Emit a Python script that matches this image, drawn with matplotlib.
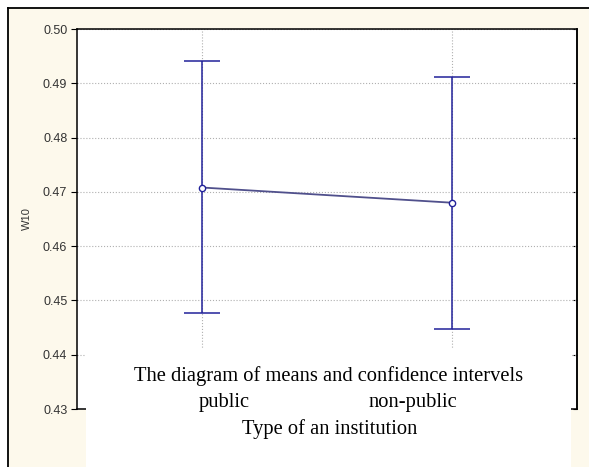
import matplotlib
matplotlib.use('Agg')
import matplotlib.pyplot as plt
from matplotlib.patches import Rectangle
from matplotlib.lines import Line2D

groups = ['public', 'non-public']
means = [0.4708, 0.4680]
upper = [0.4941, 0.4912]
lower = [0.4477, 0.4448]
yticks = [0.43, 0.44, 0.45, 0.46, 0.47, 0.48, 0.49, 0.50]

W, H = 589, 467
fig = plt.figure(figsize=(W / 100, H / 100), dpi=100)
fig.patch.set_facecolor('white')

# cream background with black frame on top and left
fig.patches.append(Rectangle((8 / W, 0), 1, 1 - 8 / H, transform=fig.transFigure,
                             facecolor='#fdf9ec', edgecolor='none', zorder=-2))
fig.lines.append(Line2D([8 / W, 1], [1 - 8 / H, 1 - 8 / H], transform=fig.transFigure,
                        color='black', lw=1.3, zorder=-1))
fig.lines.append(Line2D([8 / W, 8 / W], [0, 1 - 8 / H], transform=fig.transFigure,
                        color='black', lw=1.3, zorder=-1))

ax = fig.add_axes([77 / W, (H - 409) / H, 500 / W, 380 / H])
ax.set_zorder(1)
ax.set_facecolor('white')

x = list(range(len(groups)))
yerr = [[m - l for m, l in zip(means, lower)], [u - m for m, u in zip(means, upper)]]
ax.errorbar(x, means, yerr=yerr, fmt='none', ecolor='#22229a', elinewidth=1.1,
            capsize=13, capthick=1.1, zorder=3)
ax.plot(x, means, color='#50508c', lw=1.3, marker='o', markersize=4.5,
        markerfacecolor='white', markeredgecolor='#22229a', markeredgewidth=1, zorder=4)

ax.set_xlim(-0.5, 1.5)
ax.set_ylim(0.43, 0.50)
ax.set_yticks(yticks)
ax.set_yticklabels(['%.2f' % t for t in yticks], fontsize=9, color='#333333',
                   family='Liberation Sans')
ax.set_xticks(x)
ax.set_xticklabels([])
ax.tick_params(axis='y', direction='out', length=4, width=0.8, pad=3)
ax.tick_params(axis='x', length=0)
ax.grid(True, linestyle=':', color='#b0b0b0', lw=0.8)
for s in ax.spines.values():
    s.set_linewidth(1.1)
ax.set_ylabel('W10', fontsize=8, color='#333333', family='Liberation Sans', labelpad=8)

# small inward ticks on the right side
sec = ax.secondary_yaxis('right')
sec.set_yticks(yticks)
sec.set_yticklabels([])
sec.tick_params(direction='in', length=3, width=0.8)
sec.spines['right'].set_linewidth(1.1)

# white overlay box with the caption text, drawn above the axes
ov = fig.add_axes([86 / W, 0, (571 - 86) / W, (H - 348) / H])
ov.set_zorder(5)
ov.set_facecolor('white')
ov.set_xticks([])
ov.set_yticks([])
for s in ov.spines.values():
    s.set_visible(False)

serif = dict(family='Liberation Serif', fontsize=14.8, color='black', zorder=6,
             ha='center', va='center')
fig.text(329 / W, 1 - 376 / H, 'The diagram of means and confidence intervels', **serif)
fig.text(224 / W, 1 - 402 / H, groups[0], **serif)
fig.text(413 / W, 1 - 402 / H, groups[1], **serif)
fig.text(330 / W, 1 - 429 / H, 'Type of an institution', **serif)

fig.savefig('out.png', dpi=100, facecolor=fig.get_facecolor())
